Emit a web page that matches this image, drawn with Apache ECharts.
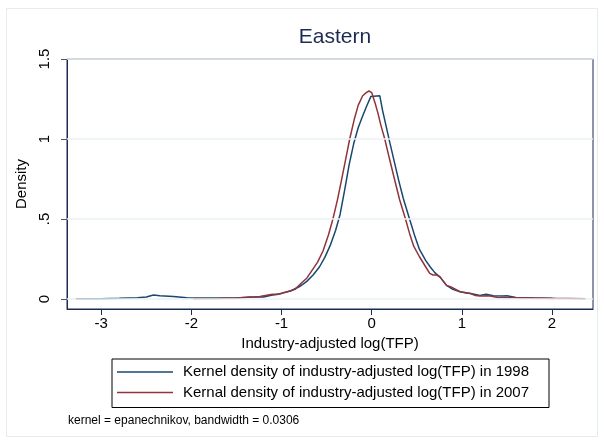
<!DOCTYPE html>
<html><head><meta charset="utf-8">
<script src="https://cdn.jsdelivr.net/npm/echarts@6/dist/echarts.min.js"></script>
<style>html,body{margin:0;padding:0;background:#fff}#c{width:604px;height:441px}</style>
</head><body><div id="c"></div>
<script>
const x1998 = [-3.28,-3.0,-2.8,-2.6,-2.5,-2.42,-2.35,-2.2,-2.05,-1.9,-1.7,-1.5,-1.35,-1.2,-1.1,-1.0,-0.9,-0.8,-0.72,-0.65,-0.58,-0.52,-0.46,-0.40,-0.35,-0.30,-0.25,-0.20,-0.15,-0.11,-0.06,-0.01,0.09,0.12,0.16,0.2,0.25,0.3,0.35,0.42,0.48,0.53,0.6,0.65,0.7,0.76,0.83,0.9,0.98,1.1,1.2,1.27,1.35,1.45,1.5,1.6,1.8,2.03];
const d1998 = [0.002,0.002,0.004,0.008,0.012,0.025,0.021,0.016,0.008,0.006,0.006,0.007,0.012,0.012,0.025,0.035,0.05,0.078,0.11,0.15,0.2,0.26,0.335,0.43,0.53,0.68,0.84,0.97,1.07,1.13,1.2,1.265,1.27,1.18,1.08,0.98,0.86,0.74,0.63,0.5,0.39,0.31,0.24,0.2,0.165,0.135,0.085,0.06,0.045,0.035,0.022,0.03,0.02,0.018,0.02,0.01,0.006,0.003];
const x2007 = [-1.98,-1.7,-1.5,-1.4,-1.3,-1.24,-1.15,-1.1,-1.05,-0.94,-0.85,-0.78,-0.72,-0.66,-0.6,-0.54,-0.48,-0.43,-0.38,-0.336,-0.29,-0.244,-0.19,-0.15,-0.1,-0.06,-0.03,0.0,0.04,0.07,0.1,0.145,0.2,0.255,0.31,0.375,0.42,0.466,0.53,0.6,0.644,0.68,0.72,0.756,0.83,0.88,0.98,1.05,1.09,1.15,1.2,1.3,1.4,1.6,2.0,2.37];
const d2007 = [0.002,0.003,0.006,0.01,0.012,0.015,0.025,0.03,0.028,0.045,0.06,0.1,0.13,0.18,0.23,0.3,0.4,0.5,0.62,0.74,0.87,1.0,1.13,1.21,1.27,1.29,1.30,1.29,1.22,1.16,1.09,1.0,0.87,0.744,0.62,0.5,0.41,0.33,0.264,0.2,0.16,0.15,0.15,0.14,0.085,0.075,0.046,0.038,0.035,0.022,0.019,0.02,0.01,0.008,0.004,0.002];
const xTicks = [-3,-2,-1,0,1,2];
const yTicks = [0,0.5,1,1.5];
const yTickLabels = ['0','.5','1','1.5'];
const seriesNames = ['Kernel density of industry-adjusted log(TFP) in 1998','Kernal density of industry-adjusted log(TFP) in 2007'];
const titleText = 'Eastern';
const xTitle = 'Industry-adjusted log(TFP)';
const yTitle = 'Density';
const noteText = 'kernel = epanechnikov, bandwidth = 0.0306';

const pairs = (xs, ys) => xs.map((x, i) => [x, ys[i]]);
const FONT = 'Liberation Sans, Arial, sans-serif';
const chart = echarts.init(document.getElementById('c'), null, {renderer: 'canvas'});
chart.setOption({
  animation: false,
  backgroundColor: '#ffffff',
  title: {text: titleText, left: 330, textAlign: 'center', top: 22,
    textStyle: {fontFamily: FONT, fontSize: 21, fontWeight: 'normal', color: '#1e2b50'}},
  graphic: [
    {type: 'rect', shape: {x: 6.5, y: 8.5, width: 591, height: 428}, style: {fill: 'none', stroke: '#e3ecef', lineWidth: 1}, z: -1},
    {type: 'text', left: 68, top: 415, style: {text: noteText, font: '12px Liberation Sans, Arial, sans-serif', fill: '#000'}}
  ],
  grid: {left: 67, top: 59, width: 526, height: 250, show: true, borderColor: '#1e2b50', borderWidth: 1, backgroundColor: '#fff'},
  legend: {
    show: true,
    orient: 'vertical', left: 112, top: 359,
    padding: [5, 20, 7, 5], itemGap: 4.5, itemWidth: 56, itemHeight: 1.5,
    icon: 'rect',
    borderColor: '#000', borderWidth: 1,
    data: [seriesNames[0], seriesNames[1]],
    textStyle: {fontFamily: FONT, fontSize: 15, lineHeight: 16, color: '#000', padding: [0, 0, 0, 5]}
  },
  xAxis: {
    type: 'value', min: -3.38, max: 2.455,
    name: xTitle, nameLocation: 'middle', nameGap: 24,
    nameTextStyle: {fontFamily: FONT, fontSize: 15, color: '#000'},
    axisLine: {show: true, onZero: false, lineStyle: {color: '#1e2b50', width: 1}},
    axisTick: {show: true, length: 6, customValues: xTicks, lineStyle: {color: '#1e2b50'}},
    axisLabel: {customValues: xTicks, margin: 7, fontFamily: FONT, fontSize: 15, color: '#000',
      formatter: v => String(v)},
    splitLine: {show: false}
  },
  yAxis: {
    type: 'value', min: -0.0625, max: 1.5,
    name: yTitle, nameLocation: 'middle', nameGap: 27, nameRotate: 90,
    nameTextStyle: {fontFamily: FONT, fontSize: 15, color: '#000'},
    axisLine: {show: true, onZero: false, lineStyle: {color: '#1e2b50', width: 1}},
    axisTick: {show: true, length: 6, customValues: yTicks, lineStyle: {color: '#555'}},
    axisLabel: {customValues: yTicks, rotate: 90, margin: 15, fontFamily: FONT, fontSize: 15, color: '#000',
      formatter: v => yTickLabels[yTicks.indexOf(Math.round(v * 100) / 100)] ?? ''},
    splitLine: {show: false}
  },
  series: [
    {type: 'line', name: 'gridlines', data: [], z: 1, silent: true,
      markLine: {silent: true, symbol: 'none', label: {show: false},
        lineStyle: {color: '#eaf2f3', width: 1.5, type: 'solid'},
        data: yTicks.map(v => ({yAxis: v}))}},
    {type: 'line', name: seriesNames[0], data: pairs(x1998, d1998), symbol: 'none', z: 3,
      lineStyle: {color: '#1a476f', width: 1.5}, itemStyle: {color: '#1a476f'}},
    {type: 'line', name: seriesNames[1], data: pairs(x2007, d2007), symbol: 'none', z: 4,
      lineStyle: {color: '#90353b', width: 1.5}, itemStyle: {color: '#90353b'}}
  ]
});
</script></body></html>
